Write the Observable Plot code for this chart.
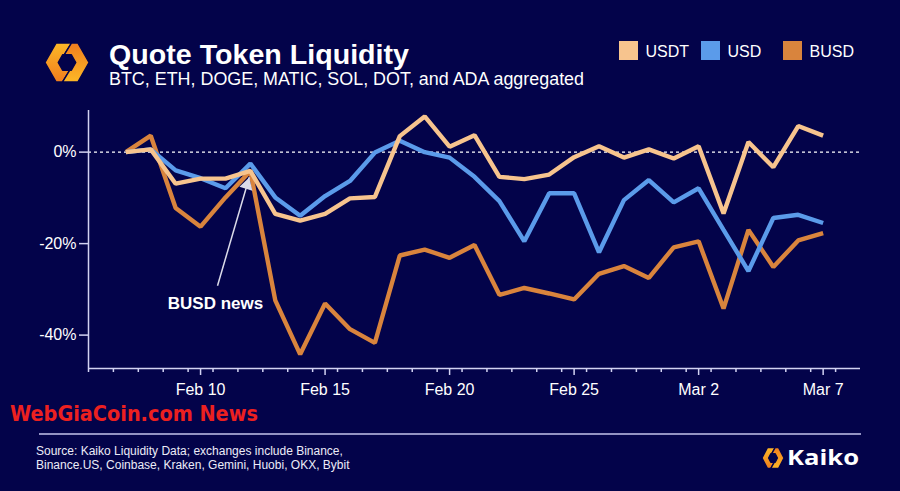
<!DOCTYPE html>
<html><head><meta charset="utf-8">
<script src="https://cdn.jsdelivr.net/npm/d3@7"></script>
<script src="https://cdn.jsdelivr.net/npm/@observablehq/plot@0.6"></script>
<style>
html,body{margin:0;padding:0;background:#03034a;}
#wrap{position:relative;width:900px;height:491px;overflow:hidden;background:#03034a;font-family:"Liberation Sans",Arial,Helvetica,sans-serif;}
#wrap svg{position:absolute;left:0;top:0;}
</style></head><body><div id="wrap"></div>
<script>
// ---------- data ----------
const dates = ["2023-02-07","2023-02-08","2023-02-09","2023-02-10","2023-02-11","2023-02-12","2023-02-13",
  "2023-02-14","2023-02-15","2023-02-16","2023-02-17","2023-02-18","2023-02-19","2023-02-20","2023-02-21",
  "2023-02-22","2023-02-23","2023-02-24","2023-02-25","2023-02-26","2023-02-27","2023-02-28","2023-03-01",
  "2023-03-02","2023-03-03","2023-03-04","2023-03-05","2023-03-06","2023-03-07"];
const usdt = [0, 0.6, -6.9, -5.8, -5.8, -4.1, -13.5, -15.0, -13.5, -10.1, -9.8, 3.5, 7.8, 1.2, 3.7,
  -5.4, -5.9, -4.9, -1.1, 1.3, -1.2, 0.6, -1.4, 1.3, -13.4, 2.2, -3.3, 5.7, 3.6];
const usd = [0, 0.6, -4.0, -5.7, -7.9, -2.5, -9.9, -13.9, -9.6, -6.3, -0.1, 2.5, 0, -1.2, -5.4,
  -10.7, -19.5, -9.0, -9.0, -21.9, -10.5, -6.1, -11.0, -7.9, -17.0, -26.0, -14.4, -13.7, -15.5];
const busd = [0, 3.6, -12.2, -16.3, -9.9, -4.1, -32.4, -44.2, -33.1, -38.7, -41.7, -22.6, -21.3, -23.1, -20.3,
  -31.2, -29.7, -30.9, -32.2, -26.6, -24.9, -27.5, -20.8, -19.5, -34.2, -17.0, -25.1, -19.3, -17.7];
const seriesNames = ["USDT", "USD", "BUSD"];
const seriesColors = ["#F7C48E", "#5B9BEA", "#D9843D"];
const xTickDates = ["2023-02-10","2023-02-15","2023-02-20","2023-02-25","2023-03-02","2023-03-07"];
const yTickValues = [0, -20, -40];
const xDomain = ["2023-02-05T12:00Z", "2023-03-08T12:00Z"];
const yDomain = [-47.3, 9.1];
const titleText = "Quote Token Liquidity";
const subtitleText = "BTC, ETH, DOGE, MATIC, SOL, DOT, and ADA aggregated";
const sourceLines = ["Source: Kaiko Liquidity Data; exchanges include Binance,",
  "Binance.US, Coinbase, Kraken, Gemini, Huobi, OKX, Bybit"];
const watermarkText = "WebGiaCoin.com News";
const brandText = "Kaiko";
const annotation = {label: "BUSD news", date: "2023-02-10T14:24Z", value: -33};
const annotationArrow = {from: "2023-02-10T16:20Z", fromValue: -29.2, to: "2023-02-11T23:00Z", toValue: -5.5};

// ---------- chart ----------
const parse = d => new Date(d);
const seriesData = {USDT: usdt, USD: usd, BUSD: busd};
const colorOf = Object.fromEntries(seriesNames.map((n, i) => [n, seriesColors[i]]));
const drawOrder = ["BUSD", "USD", "USDT"];
const rows = name => dates.map((d, i) => ({date: parse(d), value: seriesData[name][i], series: name}));
const minorTicks = d3.utcDay.range(parse("2023-02-05"), parse("2023-03-08")).map(d => d3.utcHour.offset(d, 12));
const axisColor = "#d2d2f2";
const fontFamily = '"Liberation Sans", Arial, Helvetica, sans-serif';

const chart = Plot.plot({
  width: 900, height: 491,
  marginLeft: 88, marginRight: 40, marginTop: 110, marginBottom: 123,
  style: {background: "transparent", color: "#ffffff", fontFamily, fontSize: "16px", overflow: "visible"},
  x: {type: "utc", domain: xDomain.map(parse), label: null},
  y: {domain: yDomain, label: null},
  marks: [
    Plot.ruleY([0], {stroke: "#ffffff", strokeWidth: 1.3, strokeDasharray: "3,3"}),
    Plot.ruleX([parse(xDomain[0])], {stroke: axisColor, strokeWidth: 1.5}),
    Plot.ruleY([yDomain[0]], {stroke: axisColor, strokeWidth: 1.5}),
    Plot.axisY({ticks: yTickValues, tickFormat: d => `${d}%`, tickSize: 9, tickPadding: 3,
      stroke: axisColor, strokeWidth: 1.5, fill: "#ffffff", fontSize: 16, label: null}),
    Plot.axisX({ticks: minorTicks, tickSize: 4, stroke: axisColor, strokeWidth: 1.5, fill: "none", label: null}),
    Plot.axisX({ticks: xTickDates.map(parse), tickSize: 7, tickPadding: 8, tickFormat: d3.utcFormat("%b %-d"),
      stroke: axisColor, strokeWidth: 1.5, fill: "#ffffff", fontSize: 16, label: null}),
    ...drawOrder.map(n => Plot.line(rows(n), {x: "date", y: "value", stroke: colorOf[n], strokeWidth: 4.4,
      strokeLinejoin: "miter", strokeLinecap: "butt"})),
    Plot.link([annotationArrow], {x1: d => parse(d.from), y1: "fromValue", x2: d => parse(d.to), y2: "toValue",
      stroke: "#dcdcea", strokeWidth: 1.5}),
    Plot.dot([annotationArrow], {x: d => parse(d.to), y: "toValue", symbol: "triangle", r: 5, fill: "#dcdcea",
      stroke: "none", rotate: 16.5, dx: -2.3, dy: 7.7}),
    Plot.text([annotation], {x: d => parse(d.date), y: "value", text: "label", fontWeight: "bold",
      fontSize: 17, fill: "#ffffff"})
  ]
});
document.getElementById("wrap").appendChild(chart);

// ---------- decorations (title, legend, footer) ----------
function icon(cx, cy, R, sy, idp) {
  const h = 0.866 * R, r = 0.4 * R, hi = 0.866 * r;
  const left = [[0.2*R,-h],[-R/2,-h],[-R,0],[-R/2,h],[-0.2*R,h],[0.12*R,hi],[-r/2,hi],[-r,0],[-r/2,-hi],[-0.12*R,-hi]];
  const right = left.map(([x, y]) => [-x, -y]);
  const pts = p => p.map(([x, y]) => `${(cx + x).toFixed(2)},${(cy + y * sy).toFixed(2)}`).join(" ");
  return `<defs>
    <linearGradient id="${idp}L" x1="0" y1="0" x2="0" y2="1"><stop offset="0" stop-color="#fdb827"/><stop offset="1" stop-color="#f07d1e"/></linearGradient>
    <linearGradient id="${idp}R" x1="0" y1="0" x2="0" y2="1"><stop offset="0" stop-color="#f07d1e"/><stop offset="1" stop-color="#fdb827"/></linearGradient>
  </defs>
  <polygon points="${pts(left)}" fill="url(#${idp}L)" stroke="#03034a" stroke-width="1.4" stroke-linejoin="round"/>
  <polygon points="${pts(right)}" fill="url(#${idp}R)" stroke="#03034a" stroke-width="1.4" stroke-linejoin="round"/>`;
}
const legendX = [619, 701, 783];
const legend = seriesNames.map((n, i) =>
  `<rect x="${legendX[i]}" y="41" width="19" height="19" fill="${seriesColors[i]}"/>
   <text x="${legendX[i] + 26.5}" y="56.7" font-size="16" fill="#ffffff">${n}</text>`).join("");
const overlay = `<svg xmlns="http://www.w3.org/2000/svg" width="900" height="491" style="font-family:${fontFamily.replace(/"/g, "'")}">
  ${icon(67, 62.5, 22, 1.02, "t")}
  <text x="109" y="64" font-size="28.5" font-weight="bold" fill="#ffffff" textLength="300" lengthAdjust="spacingAndGlyphs">${titleText}</text>
  <text x="109" y="85" font-size="17.5" fill="#ffffff" textLength="475" lengthAdjust="spacingAndGlyphs">${subtitleText}</text>
  ${legend}
  <text x="10" y="420.7" font-size="22" font-weight="bold" fill="#ec2020" textLength="248" lengthAdjust="spacingAndGlyphs"
    style="font-family:'Liberation Sans Narrow','DejaVu Sans Condensed',sans-serif">${watermarkText}</text>
  <line x1="39" x2="861" y1="434" y2="434" stroke="#c4c4ec" stroke-width="1.5"/>
  <text x="36" y="455.3" font-size="12" fill="#ececf8">${sourceLines[0]}</text>
  <text x="36" y="468.6" font-size="12" fill="#ececf8">${sourceLines[1]}</text>
  ${icon(773, 458, 11, 1.1, "b")}
  <text x="787" y="465" font-size="21" font-weight="bold" fill="#ffffff" textLength="72" lengthAdjust="spacingAndGlyphs"
    style="font-family:'Open Sans',sans-serif">${brandText}</text>
</svg>`;
document.getElementById("wrap").insertAdjacentHTML("beforeend", overlay);
</script>
</body></html>
